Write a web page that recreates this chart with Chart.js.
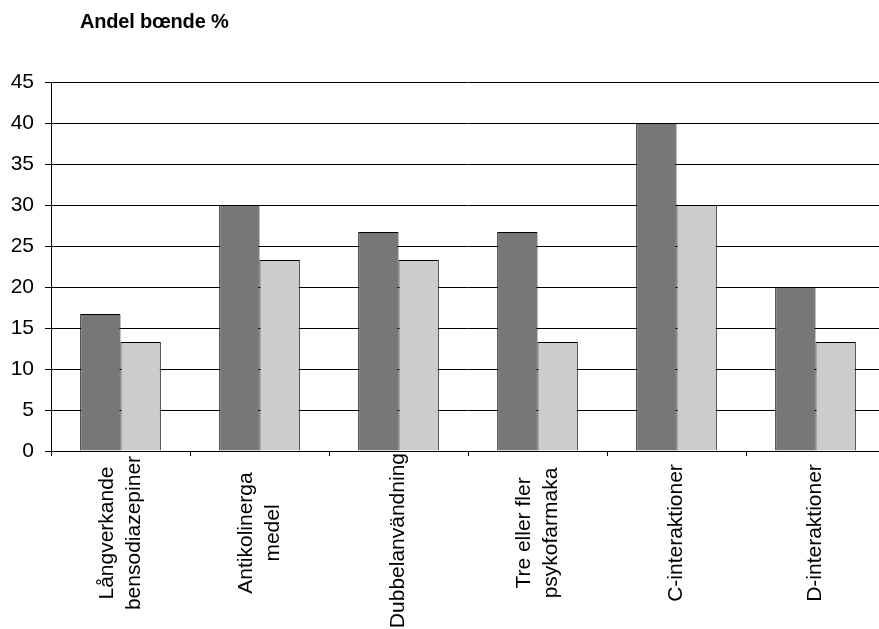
<!DOCTYPE html>
<html><head><meta charset="utf-8">
<script src="https://cdn.jsdelivr.net/npm/chart.js@4.4.0/dist/chart.umd.min.js"></script>
<style>
html,body{margin:0;padding:0;overflow:hidden;background:#fff;width:879px;height:629px;}
#wrap{position:relative;width:900px;height:629px;}
#title{position:absolute;left:80px;top:11px;font:bold 20px/20px "Liberation Sans",Arial,sans-serif;color:#000;white-space:nowrap;letter-spacing:-0.2px;}
canvas{position:absolute;left:0;top:0;}
</style></head><body>
<div id="wrap"><canvas id="c" width="900" height="629"></canvas><div id="title"></div></div>
<script>
const titleText = "Andel bœnde %";
const categories = [
  ["Långverkande", "bensodiazepiner"],
  ["Antikolinerga", "medel"],
  ["Dubbelanvändning"],
  ["Tre eller fler", "psykofarmaka"],
  ["C-interaktioner"],
  ["D-interaktioner"]
];
const seriesA = [16.7, 30, 26.7, 26.7, 40, 20];
const seriesB = [13.3, 23.3, 23.3, 13.3, 30, 13.3];
const yMin = 0, yMax = 45, yStep = 5;

document.getElementById('title').textContent = titleText;

const FONT = '"Liberation Sans", Arial, sans-serif';

const xLabelPlugin = {
  id: 'xLabels',
  afterDraw(chart) {
    const ctx = chart.ctx, xs = chart.scales.x, axisY = chart.chartArea.bottom;
    ctx.save();
    ctx.font = '21px ' + FONT;
    ctx.fillStyle = '#000';
    ctx.textAlign = 'center';
    ctx.textBaseline = 'middle';
    const lh = 27;
    categories.forEach((lines, i) => {
      const x = xs.getPixelForValue(i);
      lines.forEach((t, j) => {
        const w = ctx.measureText(t).width;
        const cy = Math.max(533, axisY + 2 + w / 2);
        const cx = x + (j - (lines.length - 1) / 2) * lh;
        ctx.save();
        ctx.translate(cx, cy);
        ctx.rotate(-Math.PI / 2);
        ctx.fillText(t, 0, 0);
        ctx.restore();
      });
    });
    ctx.restore();
  }
};

new Chart(document.getElementById('c'), {
  type: 'bar',
  data: {
    labels: categories.map(l => l.join(' ')),
    datasets: [
      { label: 'Serie 1', data: seriesA, backgroundColor: '#777777', borderColor: '#000', borderWidth: 1,
        categoryPercentage: 0.58, barPercentage: 1 },
      { label: 'Serie 2', data: seriesB, backgroundColor: '#cccccc', borderColor: '#000', borderWidth: 1,
        categoryPercentage: 0.58, barPercentage: 1 }
    ]
  },
  options: {
    responsive: false,
    animation: false,
    devicePixelRatio: 1,
    layout: { padding: { top: 82, right: 15, bottom: 0, left: 0 } },
    plugins: { legend: { display: false }, tooltip: { enabled: false }, title: { display: false } },
    scales: {
      x: {
        offset: true,
        grid: { display: true, drawOnChartArea: false, drawTicks: true, tickLength: 5, color: '#000', offset: true },
        border: { display: true, color: '#000', width: 1 },
        ticks: { display: false },
        afterFit(s) { s.height = 178; s.paddingLeft = 0; s.paddingRight = 0; }
      },
      y: {
        min: yMin, max: yMax,
        grid: { color: '#000', lineWidth: 1, drawTicks: true, tickLength: 6 },
        border: { display: true, color: '#000', width: 1 },
        ticks: { stepSize: yStep, color: '#000', padding: 11, font: { family: FONT, size: 21 } },
        afterFit(s) { s.width = 51; s.paddingTop = 0; s.paddingBottom = 0; }
      }
    }
  },
  plugins: [xLabelPlugin]
});
</script>
</body></html>
